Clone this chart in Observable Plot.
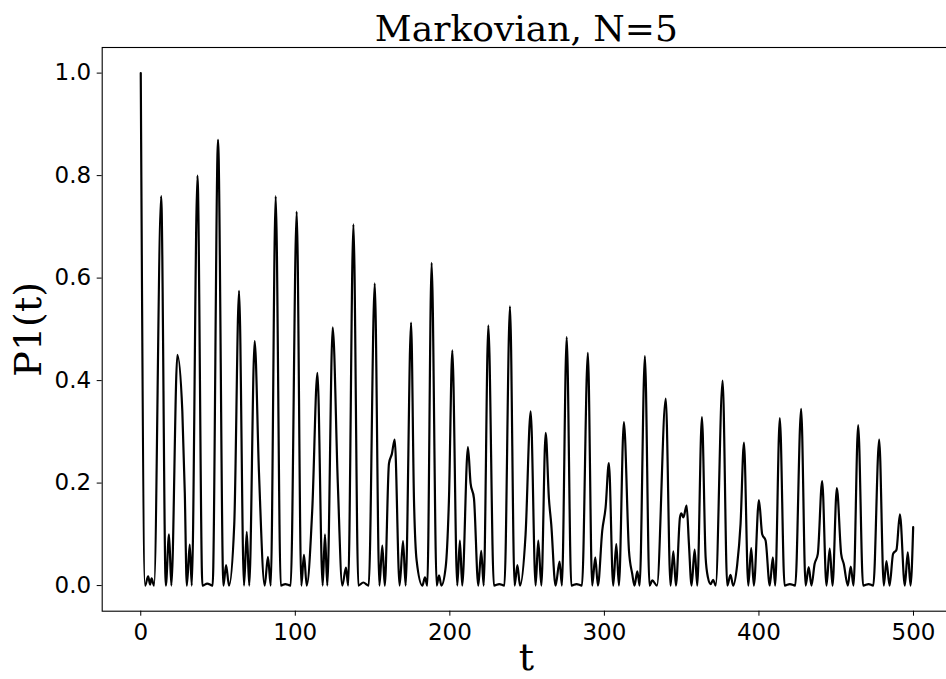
<!DOCTYPE html>
<html>
<head>
<meta charset="utf-8">
<script src="https://cdn.jsdelivr.net/npm/d3@7"></script>
<script src="https://cdn.jsdelivr.net/npm/@observablehq/plot@0.6"></script>
<style>
  html, body { margin: 0; padding: 0; background: white; overflow: hidden; }
  #chart svg { max-width: none !important; display: block; }
</style>
</head>
<body>
<div id="chart"></div>
<script>
const titleText = "Markovian, N=5";
const xLabel = "t";
const yLabel = "P1(t)";
const xTicks = [0, 100, 200, 300, 400, 500];
const yTicks = [0, 0.2, 0.4, 0.6, 0.8, 1.0];

const times = [
  0, 2.8, 4.8, 6.0, 7.0, 8.6, 13.2, 16.2, 18.3, 19.8,
  23.7, 26.9, 28.5, 29.8, 31.7, 33, 36.7, 39.9, 43, 46.5,
  50, 53.5, 55.2, 57.1, 60.5, 63.6, 66.8, 68.6, 70.2, 73.7,
  76.5, 80.2, 82.3, 84.1, 87.3, 90.6, 93.5, 97, 100.9, 103.9,
  105.6, 107.4, 111, 114.3, 117.7, 119.2, 120.7, 124.2, 127.5, 130.4,
  132.8, 134.2, 137.6, 140.8, 144, 147.5, 151.4, 154.4, 156.3, 157.9,
  160.6, 162.5, 164.3, 167.5, 169.7, 171.4, 174.9, 176.8, 178.5, 182.2,
  183.9, 185.4, 188.2, 191.5, 193, 194.5, 197.3, 199.4, 201.6, 204.8,
  206.5, 208, 211.7, 213.4, 215.6, 218.4, 220.3, 221.9, 224.9, 228.5,
  232, 235.3, 238.9, 241.9, 243.7, 245.4, 249, 252.3, 255.5, 257.2,
  259.2, 262, 264.1, 265.6, 268.4, 271, 272.5, 275.6, 278.6, 282,
  285.5, 289.3, 292.1, 294.1, 295.8, 298.6, 300.8, 302.9, 305.7, 307.7,
  309.4, 312.6, 315.9, 318, 319.5, 321.3, 322.8, 326.2, 329.2, 331,
  334, 339.7, 342.8, 344.6, 346.3, 348.9, 349.8, 351.1, 353.2, 354.7,
  356.4, 358.4, 360.1, 363.1, 365.5, 367, 368.7, 370.4, 372, 376.5,
  379.5, 381.6, 383.3, 385.9, 388.1, 390.3, 393.1, 395, 396.7, 400,
  402.1, 404.3, 407, 409, 410.5, 413.5, 416.6, 420, 423.5, 427.3,
  430.2, 432.2, 434, 436, 438.1, 440.9, 443.7, 445.8, 447.6, 450.4,
  453.2, 454.9, 457.5, 459.4, 461.2, 464.2, 467.4, 471, 474, 477.8,
  480.8, 482.5, 484.5, 486.8, 489, 491.2, 494.4, 496.3, 498.1, 499.8
];

const probs = [
  1.0, 0, 0.018, 0.002, 0.014, 0, 0.76, 0, 0.10, 0,
  0.45, 0.34, 0.18, 0, 0.08, 0, 0.80, 0, 0.004, 0,
  0.87, 0, 0.04, 0, 0.12, 0.575, 0, 0.105, 0, 0.477,
  0.22, 0, 0.056, 0, 0.76, 0, 0.003, 0, 0.73, 0,
  0.06, 0, 0.15, 0.415, 0, 0.10, 0, 0.504, 0.2, 0,
  0.035, 0, 0.705, 0, 0.006, 0, 0.59, 0, 0.078, 0,
  0.238, 0.257, 0.285, 0, 0.087, 0, 0.513, 0.166, 0.049, 0,
  0.016, 0, 0.63, 0, 0.02, 0, 0.036, 0.166, 0.459, 0,
  0.088, 0, 0.27, 0.2, 0.17, 0, 0.068, 0, 0.508, 0,
  0.003, 0, 0.545, 0, 0.04, 0, 0.1, 0.34, 0, 0.088,
  0, 0.298, 0.17, 0.12, 0, 0.047, 0, 0.485, 0, 0.003,
  0, 0.454, 0, 0.055, 0, 0.107, 0.153, 0.239, 0, 0.081,
  0, 0.319, 0.068, 0.023, 0, 0.028, 0, 0.448, 0, 0.01,
  0, 0.365, 0, 0.067, 0, 0.133, 0.141, 0.133, 0.156, 0.081,
  0, 0.07, 0, 0.329, 0.055, 0.016, 0.003, 0.011, 0, 0.40,
  0, 0.021, 0, 0.04, 0.12, 0.279, 0, 0.073, 0, 0.167,
  0.1, 0.088, 0, 0.055, 0, 0.327, 0, 0.003, 0, 0.345,
  0, 0.036, 0, 0.042, 0.062, 0.204, 0, 0.072, 0, 0.19,
  0.062, 0.042, 0, 0.037, 0, 0.313, 0, 0.003, 0, 0.285,
  0, 0.048, 0, 0.062, 0.07, 0.139, 0, 0.065, 0, 0.114
];

const data = times.map((t, i) => ({t, p: probs[i]}));

const serif = "'DejaVu Serif', serif";
const sans = "'DejaVu Sans', sans-serif";

const chart = Plot.plot({
  width: 952,
  height: 679,
  marginLeft: 101.7,
  marginRight: 2,
  marginTop: 47,
  marginBottom: 68.3,
  style: {fontFamily: sans, fontSize: "23px", background: "white", color: "black"},
  x: {domain: [-24.95, 523.95]},
  y: {domain: [-0.05, 1.05]},
  marks: [
    Plot.frame({stroke: "black", strokeWidth: 1.1}),
    Plot.axisX({ticks: xTicks, tickFormat: d3.format("d"), tickSize: 5, tickPadding: 7, fontSize: 23, fontFamily: sans, label: null, stroke: "black"}),
    Plot.axisY({ticks: yTicks, tickFormat: d3.format(".1f"), tickSize: 5, tickPadding: 6, fontSize: 23, fontFamily: sans, label: null, stroke: "black"}),
    Plot.line(data, {x: "t", y: "p", curve: "monotone-x", stroke: "black", strokeWidth: 2.2}),
    Plot.text([titleText], {frameAnchor: "top", dy: -7, lineAnchor: "bottom", fontSize: 36, fontFamily: serif, fill: "black"}),
    Plot.text([xLabel], {frameAnchor: "bottom", dy: 59, lineAnchor: "bottom", fontSize: 38, fontFamily: serif, fill: "black"}),
    Plot.text([yLabel], {frameAnchor: "left", dx: -61, rotate: -90, lineAnchor: "bottom", textAnchor: "middle", fontSize: 38, fontFamily: serif, fill: "black"})
  ]
});
document.getElementById("chart").appendChild(chart);
</script>
</body>
</html>
